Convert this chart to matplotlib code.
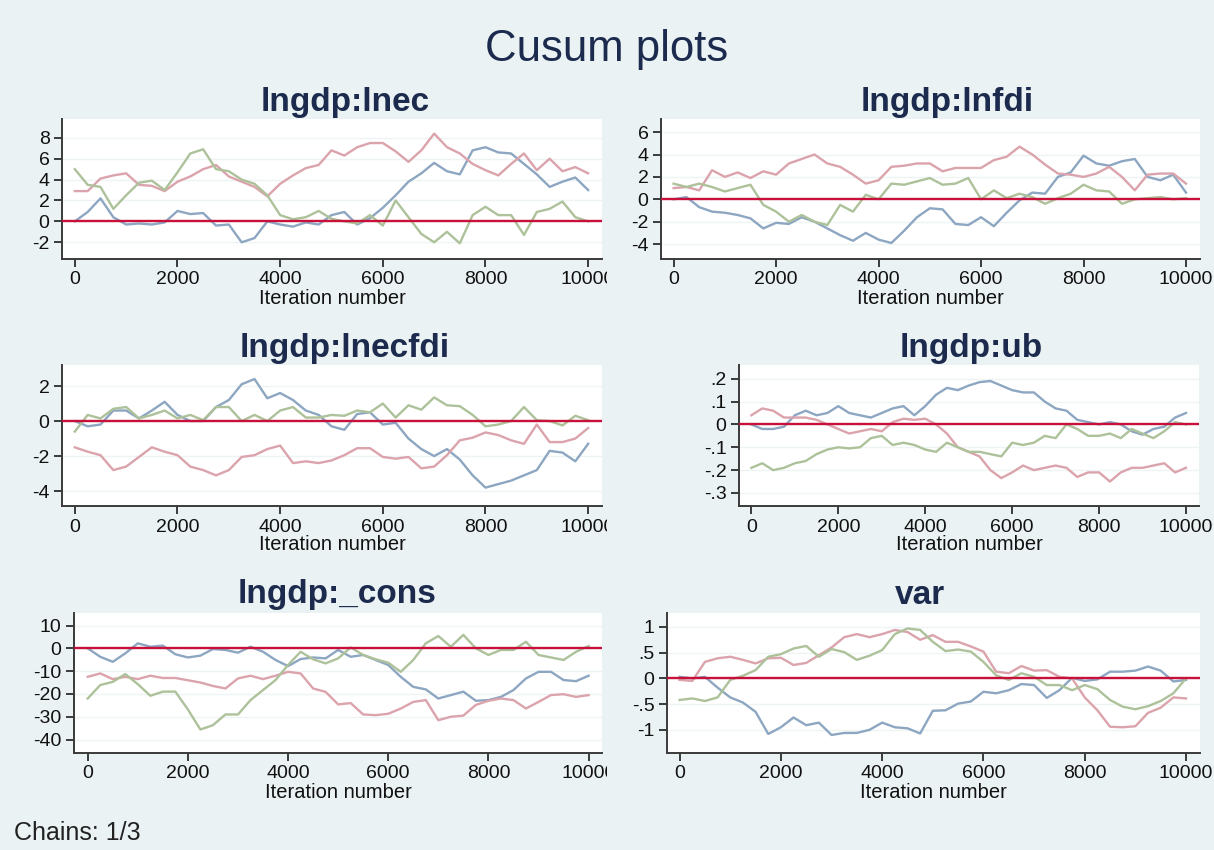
import matplotlib
matplotlib.use("Agg")
import matplotlib.pyplot as plt
from matplotlib.transforms import Bbox, TransformedBbox

plt.rcParams["font.family"] = ["Liberation Sans", "DejaVu Sans"]

W, H = 1214, 850
BG = "#EAF2F3"
NAVY = "#1C2A4E"
C_BLUE, C_RED, C_GREEN = "#8DA6C1", "#DBA3AC", "#ADC29A"
ZERO = "#C8103A"

ITER = list(range(0, 10001, 250))

# lngdp:lnec
lnec_blue = [0, 0.9, 2.2, 0.4, -0.3, -0.2, -0.3, -0.1, 1.0, 0.7, 0.8, -0.4, -0.3, -2.0, -1.6, 0.0, -0.3, -0.5, -0.1, -0.3,
             0.6, 0.9, -0.3, 0.3, 1.3, 2.5, 3.8, 4.6, 5.6, 4.8, 4.5, 6.8, 7.1, 6.6, 6.5, 5.5, 4.5, 3.3, 3.8, 4.2, 3.0]
lnec_red = [2.9, 2.9, 4.1, 4.4, 4.6, 3.5, 3.4, 2.9, 3.8, 4.3, 5.0, 5.4, 4.3, 3.8, 3.3, 2.4, 3.6, 4.4, 5.1, 5.4,
            6.8, 6.3, 7.1, 7.5, 7.5, 6.7, 5.7, 6.8, 8.4, 7.1, 6.5, 5.5, 4.9, 4.4, 5.5, 6.5, 4.9, 6.0, 4.8, 5.2, 4.6]
lnec_green = [5.0, 3.5, 3.3, 1.2, 2.5, 3.7, 3.9, 3.0, 4.7, 6.5, 6.9, 5.0, 4.8, 4.0, 3.6, 2.5, 0.6, 0.2, 0.4, 1.0,
              0.25, 0.0, -0.2, 0.6, -0.4, 2.0, 0.4, -1.2, -2.0, -1.0, -2.1, 0.6, 1.4, 0.6, 0.6, -1.3, 0.9, 1.2, 1.9, 0.4, 0.0]

# lngdp:lnfdi
lnfdi_blue = [0, 0.2, -0.7, -1.1, -1.2, -1.4, -1.7, -2.6, -2.1, -2.2, -1.6, -2.0, -2.6, -3.2, -3.7, -3.0, -3.6, -3.9, -2.8, -1.6,
              -0.8, -0.9, -2.2, -2.3, -1.6, -2.4, -1.2, -0.1, 0.6, 0.5, 2.0, 2.4, 3.9, 3.2, 3.0, 3.4, 3.6, 2.0, 1.7, 2.2, 0.6]
lnfdi_red = [1.0, 1.1, 0.8, 2.6, 2.0, 2.4, 1.9, 2.5, 2.2, 3.2, 3.6, 4.0, 3.2, 2.9, 2.2, 1.4, 1.7, 2.9, 3.0, 3.2,
             3.2, 2.5, 2.8, 2.8, 2.8, 3.5, 3.8, 4.7, 4.0, 3.1, 2.3, 2.2, 2.0, 2.3, 2.9, 2.0, 0.8, 2.2, 2.3, 2.3, 1.4]
lnfdi_green = [1.4, 1.1, 1.4, 1.1, 0.7, 1.0, 1.3, -0.5, -1.1, -2.0, -1.4, -2.0, -2.3, -0.5, -1.1, 0.4, 0.0, 1.4, 1.3, 1.6,
               1.9, 1.3, 1.4, 1.9, 0.0, 0.8, 0.1, 0.5, 0.2, -0.4, 0.1, 0.5, 1.3, 0.8, 0.7, -0.4, 0.0, 0.1, 0.2, 0.0, 0.1]

# lngdp:lnecfdi
lnecfdi_blue = [0.0, -0.3, -0.2, 0.6, 0.6, 0.15, 0.6, 1.1, 0.35, 0.0, 0.0, 0.8, 1.2, 2.1, 2.4, 1.3, 1.6, 1.2, 0.6, 0.35,
                -0.3, -0.5, 0.4, 0.5, -0.2, -0.1, -1.0, -1.6, -2.0, -1.6, -2.2, -3.1, -3.8, -3.6, -3.4, -3.1, -2.8, -1.7, -1.8, -2.3, -1.3]
lnecfdi_red = [-1.5, -1.75, -1.95, -2.8, -2.6, -2.05, -1.5, -1.75, -1.95, -2.6, -2.8, -3.1, -2.8, -2.05, -1.95, -1.6, -1.4, -2.4, -2.3, -2.4,
               -2.25, -1.95, -1.55, -1.55, -2.05, -2.15, -2.05, -2.7, -2.6, -1.95, -1.1, -0.95, -0.65, -0.8, -1.1, -1.3, -0.2, -1.2, -1.2, -1.0, -0.4]
lnecfdi_green = [-0.6, 0.35, 0.15, 0.7, 0.8, 0.15, 0.35, 0.6, 0.15, 0.35, 0.05, 0.8, 0.8, 0.0, 0.35, 0.0, 0.6, 0.8, 0.2, 0.2,
                 0.35, 0.3, 0.6, 0.5, 1.0, 0.2, 0.9, 0.65, 1.35, 0.9, 0.85, 0.35, -0.3, -0.2, 0.0, 0.8, 0.05, 0.0, -0.25, 0.3, 0.05]

# lngdp:ub
ub_blue = [0.0, -0.02, -0.02, -0.01, 0.04, 0.06, 0.04, 0.05, 0.08, 0.05, 0.04, 0.03, 0.05, 0.07, 0.08, 0.04, 0.08, 0.13, 0.16,
           0.15, 0.17, 0.185, 0.19, 0.17, 0.15, 0.14, 0.14, 0.10, 0.07, 0.06, 0.02, 0.01, 0.0, 0.01, 0.0, -0.03, -0.045, -0.02, -0.01, 0.03, 0.05]
ub_red = [0.04, 0.07, 0.06, 0.03, 0.03, 0.03, 0.02, 0.0, -0.02, -0.04, -0.03, -0.02, -0.03, 0.01, 0.025, 0.02, 0.025, 0.0, -0.04,
          -0.10, -0.12, -0.14, -0.20, -0.235, -0.21, -0.18, -0.20, -0.19, -0.18, -0.19, -0.23, -0.21, -0.21, -0.25, -0.21, -0.19, -0.19, -0.18, -0.17, -0.21, -0.19]
ub_green = [-0.19, -0.17, -0.20, -0.19, -0.17, -0.16, -0.13, -0.11, -0.10, -0.105, -0.10, -0.06, -0.05, -0.09, -0.08, -0.09, -0.11, -0.12, -0.08,
            -0.10, -0.12, -0.12, -0.13, -0.14, -0.08, -0.09, -0.08, -0.05, -0.06, 0.0, -0.02, -0.05, -0.05, -0.04, -0.06, -0.02, -0.04, -0.06, -0.03, 0.01, 0.0]

# lngdp:_cons
cons_blue = [0, -3.7, -5.9, -2.2, 2.2, 0.7, 1.2, -2.6, -4.0, -3.2, -0.3, -0.7, -1.9, 0.7, -1.5, -5.1, -7.8, -4.7, -4.0,
             -4.4, -0.7, -3.7, -2.9, -5.1, -7.3, -12.5, -16.9, -18.0, -22.0, -20.5, -19.0, -23.0, -22.7, -21.3, -18.3, -13.2, -10.3, -10.3, -13.9, -14.4, -12.0]
cons_red = [-12.5, -11.0, -13.5, -12.5, -13.5, -12.0, -13.0, -13.0, -14.0, -15.0, -16.5, -17.6, -13.2, -12.0, -13.5, -12.0, -10.3, -11.0, -17.6,
            -19.1, -24.6, -24.0, -29.0, -29.3, -28.7, -26.4, -23.5, -22.7, -31.5, -30.0, -29.5, -24.8, -23.0, -22.0, -22.7, -26.4, -23.5, -20.5, -20.1, -21.3, -20.5]
cons_green = [-22.0, -16.1, -14.7, -11.3, -15.7, -20.8, -19.0, -19.0, -26.8, -35.6, -33.7, -29.0, -29.0, -22.7, -18.3, -13.9, -7.3, -1.5, -4.8,
              -6.6, -4.4, 0.4, -2.9, -4.8, -6.3, -10.3, -5.1, 2.2, 5.4, 0.7, 5.9, 0.0, -2.9, -0.7, -0.7, 2.9, -2.9, -4.0, -5.1, -1.5, 1.0]

# var
var_blue = [0.03, 0.0, 0.03, -0.18, -0.37, -0.47, -0.65, -1.08, -0.95, -0.76, -0.91, -0.86, -1.1, -1.06, -1.06, -1.0, -0.86, -0.95, -0.97,
            -1.07, -0.63, -0.62, -0.49, -0.45, -0.26, -0.29, -0.23, -0.11, -0.13, -0.38, -0.23, 0.01, -0.05, -0.02, 0.13, 0.13, 0.15, 0.23, 0.15, -0.06, -0.03]
var_red = [-0.03, -0.05, 0.32, 0.39, 0.42, 0.36, 0.29, 0.39, 0.4, 0.26, 0.3, 0.45, 0.6, 0.8, 0.86, 0.8, 0.86, 0.94, 0.9,
           0.75, 0.84, 0.71, 0.71, 0.62, 0.52, 0.13, 0.1, 0.24, 0.15, 0.16, 0.03, 0.0, -0.37, -0.62, -0.94, -0.95, -0.93, -0.67, -0.57, -0.37, -0.39]
var_green = [-0.42, -0.39, -0.44, -0.37, -0.03, 0.05, 0.16, 0.42, 0.47, 0.58, 0.63, 0.42, 0.57, 0.51, 0.36, 0.44, 0.55, 0.86, 0.97,
             0.94, 0.71, 0.53, 0.56, 0.52, 0.32, 0.06, -0.03, 0.1, 0.03, -0.13, -0.13, -0.23, -0.13, -0.21, -0.42, -0.55, -0.6, -0.54, -0.44, -0.29, 0.0]

X_TICKS = [0, 2000, 4000, 6000, 8000, 10000]

PANELS = [
    # title, series, yticks, ytick labels, ylim, box (l, t, r, b px), xlim, title pos
    ("lngdp:lnec", (lnec_blue, lnec_red, lnec_green), [-2, 0, 2, 4, 6, 8], ["-2", "0", "2", "4", "6", "8"],
     (-3.6, 9.8), (62, 119, 602, 259), (-250, 10270), (345, 102)),
    ("lngdp:lnfdi", (lnfdi_blue, lnfdi_red, lnfdi_green), [-4, -2, 0, 2, 4, 6], ["-4", "-2", "0", "2", "4", "6"],
     (-5.33, 7.17), (661, 119, 1200, 259), (-246, 10273), (947, 102)),
    ("lngdp:lnecfdi", (lnecfdi_blue, lnecfdi_red, lnecfdi_green), [-4, -2, 0, 2], ["-4", "-2", "0", "2"],
     (-4.85, 3.2), (62, 365, 602, 506), (-250, 10270), (345, 348)),
    ("lngdp:ub", (ub_blue, ub_red, ub_green), [-0.3, -0.2, -0.1, 0, 0.1, 0.2], ["-.3", "-.2", "-.1", "0", ".1", ".2"],
     (-0.357, 0.26), (739, 365, 1199, 506), (-285, 10300), (971, 348)),
    ("lngdp:_cons", (cons_blue, cons_red, cons_green), [-40, -30, -20, -10, 0, 10], ["-40", "-30", "-20", "-10", "0", "10"],
     (-45.9, 15.5), (74, 613, 602, 753), (-274, 10268), (337, 595)),
    ("var", (var_blue, var_red, var_green), [-1, -0.5, 0, 0.5, 1], ["-1", "-.5", "0", ".5", "1"],
     (-1.45, 1.27), (667, 613, 1200, 753), (-249, 10276), (920, 595)),
]

fig = plt.figure(figsize=(W / 100, H / 100), dpi=100, facecolor=BG)
fig.text(0.5, 1 - 50 / H, "Cusum plots", ha="center", va="center", fontsize=31.5, color=NAVY)
fig.text(14 / W, 1 - 833 / H, "Chains: 1/3", ha="left", va="center", fontsize=18, color="#222222")

for i, (title, series, yt, ytl, ylim, box, xlim, tpos) in enumerate(PANELS):
    l, t, r, b = box
    ax = fig.add_axes([l / W, 1 - b / H, (r - l) / W, (b - t) / H])
    ax.set_facecolor("white")
    for s, c in zip(series, (C_BLUE, C_RED, C_GREEN)):
        ax.plot(ITER, s, color=c, lw=1.7, zorder=2)
    ax.axhline(0, color=ZERO, lw=1.7, zorder=3)
    ax.set_xlim(*xlim)
    ax.set_ylim(*ylim)
    ax.set_xticks(X_TICKS)
    ax.set_yticks(yt)
    ax.set_yticklabels(ytl)
    ax.grid(axis="y", color="#EEF3F4", lw=1.0, zorder=0)
    ax.set_axisbelow(True)
    for sp in ("top", "right"):
        ax.spines[sp].set_visible(False)
    for sp in ("left", "bottom"):
        ax.spines[sp].set_color("#3A3A3A")
        ax.spines[sp].set_linewidth(1.4)
    ax.tick_params(length=6, width=1.4, color="#3A3A3A", labelsize=14, labelcolor="#111111", pad=3)
    ax.set_xlabel("Iteration number", fontsize=14.5, color="#111111", labelpad=0)
    fig.text(tpos[0] / W, 1 - tpos[1] / H, title, ha="center", va="center",
             fontsize=24, fontweight="bold", color=NAVY)
    if i % 2 == 0:
        clip = TransformedBbox(Bbox([[0, 0], [607 / W, 1]]), fig.transFigure)
        for lbl in ax.get_xticklabels():
            lbl.set_clip_box(clip)
            lbl.set_clip_on(True)

fig.savefig("out.png", dpi=100, facecolor=BG)
